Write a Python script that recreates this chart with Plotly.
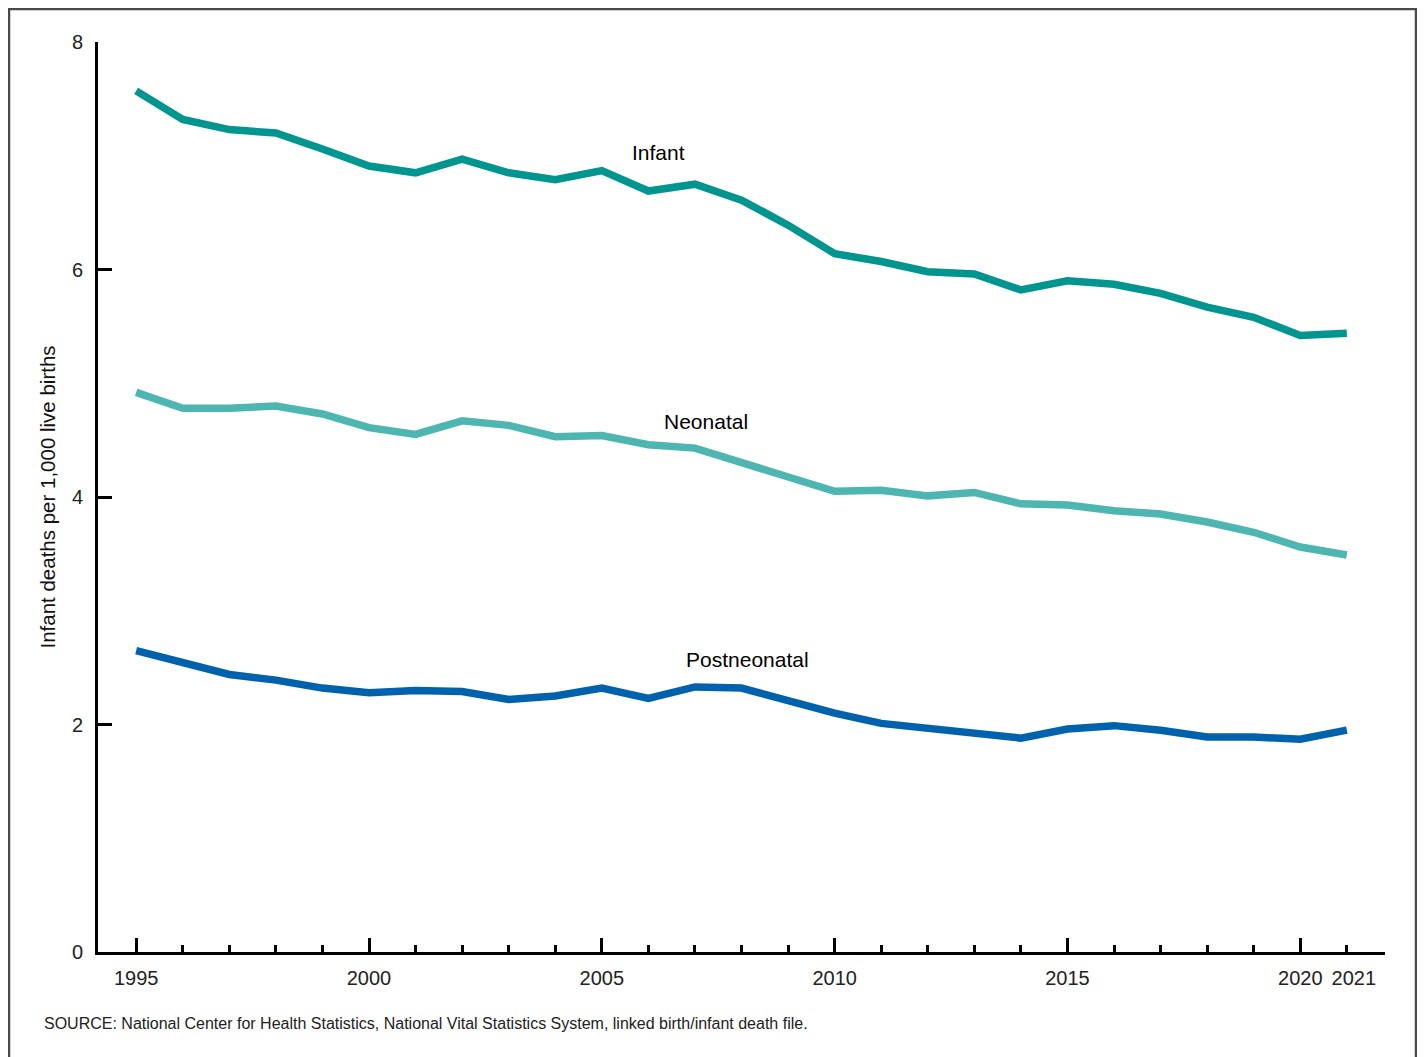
import plotly.graph_objects as go

years = list(range(1995, 2022))
infant = [7.57, 7.32, 7.23, 7.20, 7.06, 6.91, 6.85, 6.97, 6.85, 6.79, 6.87, 6.69, 6.75, 6.61,
          6.39, 6.14, 6.07, 5.98, 5.96, 5.82, 5.90, 5.87, 5.79, 5.67, 5.58, 5.42, 5.44]
neonatal = [4.92, 4.78, 4.78, 4.80, 4.73, 4.61, 4.55, 4.67, 4.63, 4.53, 4.54, 4.46, 4.43, 4.30,
            4.18, 4.05, 4.06, 4.01, 4.04, 3.94, 3.93, 3.88, 3.85, 3.78, 3.69, 3.56, 3.49]
postneonatal = [2.65, 2.54, 2.44, 2.39, 2.32, 2.28, 2.30, 2.29, 2.22, 2.25, 2.32, 2.23, 2.33, 2.32,
                2.21, 2.10, 2.01, 1.97, 1.92, 1.88, 1.96, 1.99, 1.95, 1.89, 1.89, 1.87, 1.95]

series_names = ["Infant", "Neonatal", "Postneonatal"]
series_colors = ["#00958F", "#4DB6B0", "#0062AD"]
label_pos = [(2006.21, 7.03), (2007.24, 4.66), (2008.12, 2.57)]

major_ticks = [1995, 2000, 2005, 2010, 2015, 2020]
extra_tick = [2021]
y_ticks = [0, 2, 4, 6, 8]

FONT = "Liberation Sans, Arial, sans-serif"

fig = go.Figure()
for name, vals, col in zip(series_names, [infant, neonatal, postneonatal], series_colors):
    fig.add_trace(go.Scatter(x=years, y=vals, mode="lines", name=name,
                             line=dict(color=col, width=7.5), showlegend=False))

for name, (lx, ly) in zip(series_names, label_pos):
    fig.add_annotation(x=lx, y=ly, text=name, showarrow=False, xanchor="center", yanchor="middle",
                       font=dict(size=21, color="#000000", family=FONT))

# dummy trace for second x axis (2021 short tick)
fig.add_trace(go.Scatter(x=[2021], y=[None], xaxis="x2", showlegend=False, hoverinfo="skip"))

xr = [1994.18, 2021.82]
tickfont = dict(size=20, family=FONT, color="#222222")
fig.update_layout(
    width=1417, height=1049,
    margin=dict(l=90, r=40, t=34, b=105),
    paper_bgcolor="white", plot_bgcolor="white",
    font=dict(family=FONT, size=20, color="#222222"),
    xaxis=dict(range=xr, tickvals=major_ticks, ticks="inside", ticklen=14, tickwidth=2.7,
               tickcolor="black", showline=True, linecolor="black", linewidth=3,
               showgrid=False, zeroline=False, ticklabelstandoff=6, tickfont=tickfont,
               minor=dict(dtick=1, tick0=1995, ticks="inside", ticklen=7, tickwidth=2.7,
                          tickcolor="black", showgrid=False)),
    xaxis2=dict(range=xr, overlaying="x", anchor="y", side="bottom", tickvals=extra_tick,
                ticks="inside", ticklen=7, tickwidth=2.7, tickcolor="black",
                showline=True, linecolor="black", linewidth=3, showgrid=False, zeroline=False,
                ticklabelstandoff=6, ticklabelshift=7, tickfont=tickfont),
    yaxis=dict(range=[0, 8], tickvals=y_ticks, ticks="inside", ticklen=14, tickwidth=2.7,
               tickcolor="black", showline=True, linecolor="black", linewidth=3,
               showgrid=False, zeroline=False, ticklabelstandoff=8, tickfont=tickfont,
               title=dict(text="Infant deaths per 1,000 live births", standoff=11,
                          font=dict(size=20.5, family=FONT, color="#111111"))),
)

fig.add_annotation(xref="paper", yref="paper", x=(34 - 90) / 1287, y=(944 - 1015) / 910,
                   xanchor="left", yanchor="middle",
                   text="SOURCE: National Center for Health Statistics, National Vital Statistics System, linked birth/infant death file.",
                   showarrow=False, font=dict(size=16, family=FONT, color="#222222"))

# outer frame (bottom edge falls outside the visible page, as in the reference)
fig.add_shape(type="rect", xref="paper", yref="paper",
              x0=(1 - 90) / 1287, x1=(1408 - 90) / 1287,
              y0=(944 - 1065) / 910, y1=(944 - 1) / 910,
              line=dict(color="#4a4a4a", width=2.5), layer="below")

fig.write_html("out.html")
